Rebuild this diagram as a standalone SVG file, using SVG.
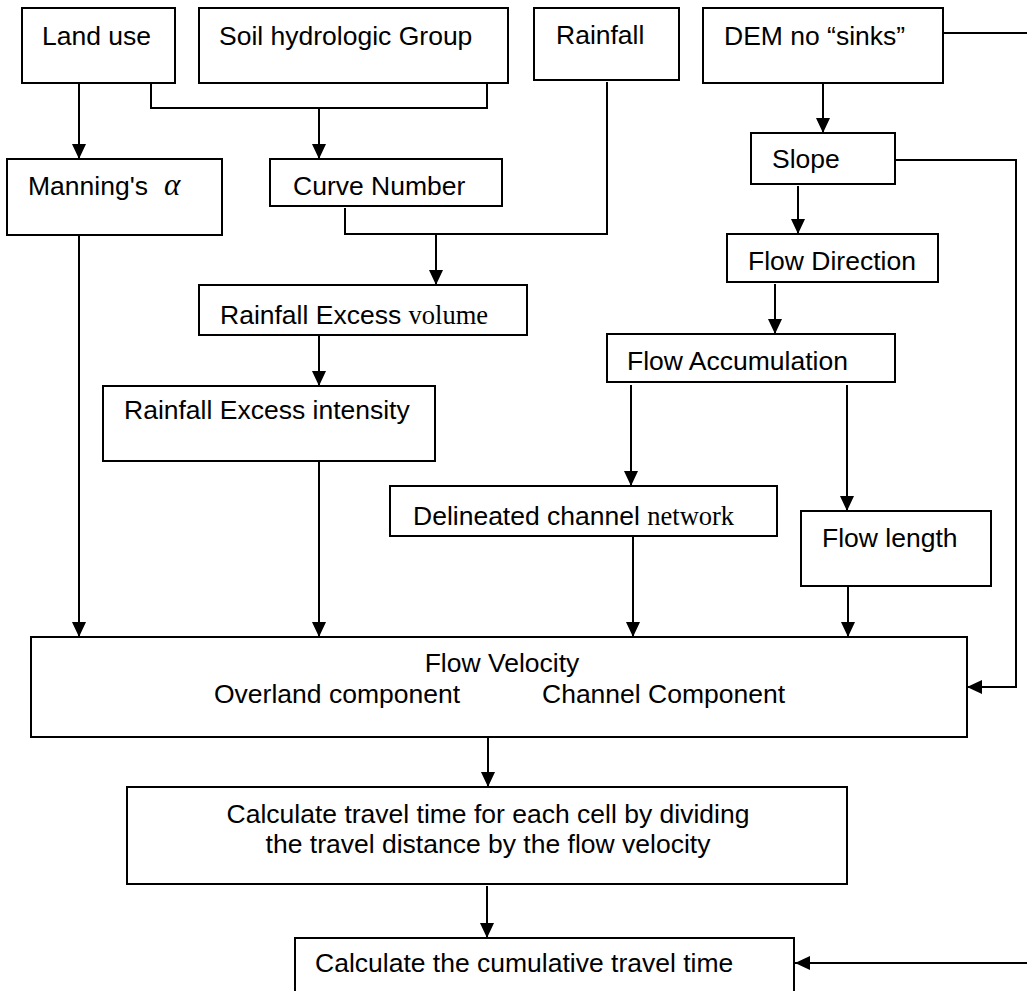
<svg xmlns="http://www.w3.org/2000/svg" width="1027" height="991" viewBox="0 0 1027 991">
<style>
.box{fill:#fff;stroke:#000;stroke-width:2}
.t{font-family:"Liberation Sans",Arial,sans-serif;font-size:26.5px;fill:#000}
.s{font-family:"Liberation Serif","Times New Roman",serif}
.c{fill:none;stroke:#000;stroke-width:2}
</style>
<defs>
<marker id="ah" markerUnits="userSpaceOnUse" markerWidth="15" markerHeight="14" viewBox="0 0 15 14" refX="15" refY="7" orient="auto">
<path d="M0,0 L15,7 L0,14 z" fill="#000"/>
</marker>
</defs>
<rect width="1027" height="991" fill="#fff"/>
<g id="connectors">
<path class="c" d="M79,83 V159" marker-end="url(#ah)"/>
<path class="c" d="M151,83 V108 H487 V83"/>
<path class="c" d="M319,108 V159" marker-end="url(#ah)"/>
<path class="c" d="M607,82 V234 H345 V208"/>
<path class="c" d="M436,234 V285" marker-end="url(#ah)"/>
<path class="c" d="M823,83 V133" marker-end="url(#ah)"/>
<path class="c" d="M943,33 H1027"/>
<path class="c" d="M895,160 H1016 V687 H967" marker-end="url(#ah)"/>
<path class="c" d="M798,186 V234" marker-end="url(#ah)"/>
<path class="c" d="M775,284 V334" marker-end="url(#ah)"/>
<path class="c" d="M319,335 V386" marker-end="url(#ah)"/>
<path class="c" d="M631,385 V486" marker-end="url(#ah)"/>
<path class="c" d="M847,385 V511" marker-end="url(#ah)"/>
<path class="c" d="M79,235 V637" marker-end="url(#ah)"/>
<path class="c" d="M319,461 V637" marker-end="url(#ah)"/>
<path class="c" d="M633,536 V637" marker-end="url(#ah)"/>
<path class="c" d="M848,586 V637" marker-end="url(#ah)"/>
<path class="c" d="M488,737 V787" marker-end="url(#ah)"/>
<path class="c" d="M487,886 V938" marker-end="url(#ah)"/>
<path class="c" d="M1027,963 H795" marker-end="url(#ah)"/>
</g>
<g id="land-use"><rect class="box" x="22" y="8" width="153" height="75"/><text class="t" x="42" y="45">Land use</text></g>
<g id="soil"><rect class="box" x="199" y="8" width="309" height="75"/><text class="t" x="219" y="45">Soil hydrologic Group</text></g>
<g id="rainfall"><rect class="box" x="534" y="8" width="145" height="72"/><text class="t" x="556" y="44">Rainfall</text></g>
<g id="dem"><rect class="box" x="703" y="8" width="240" height="75"/><text class="t" x="724" y="45">DEM no “sinks”</text></g>
<g id="manning"><rect class="box" x="7" y="159" width="215" height="76"/><text class="t" x="28" y="195">Manning's <tspan class="s" font-style="italic" font-size="31" x="164">α</tspan></text></g>
<g id="curve-number"><rect class="box" x="270" y="159" width="232" height="47"/><text class="t" x="293" y="195">Curve Number</text></g>
<g id="slope"><rect class="box" x="751" y="133" width="144" height="51"/><text class="t" x="772" y="168">Slope</text></g>
<g id="flow-direction"><rect class="box" x="727" y="234" width="211" height="48"/><text class="t" x="748" y="270">Flow Direction</text></g>
<g id="rainfall-excess-volume"><rect class="box" x="199" y="285" width="328" height="50"/><text class="t" x="220" y="324">Rainfall Excess <tspan class="s">volume</tspan></text></g>
<g id="flow-accumulation"><rect class="box" x="607" y="334" width="288" height="48"/><text class="t" x="627" y="370">Flow Accumulation</text></g>
<g id="rainfall-excess-intensity"><rect class="box" x="103" y="386" width="332" height="75"/><text class="t" x="124" y="419">Rainfall Excess intensity</text></g>
<g id="delineated"><rect class="box" x="390" y="486" width="387" height="50"/><text class="t" x="413" y="525">Delineated channel <tspan class="s">network</tspan></text></g>
<g id="flow-length"><rect class="box" x="801" y="511" width="190" height="75"/><text class="t" x="822" y="547">Flow length</text></g>
<g id="flow-velocity"><rect class="box" x="31" y="637" width="936" height="100"/><text class="t" x="502" y="672" text-anchor="middle">Flow Velocity</text><text class="t" x="214" y="703">Overland component</text><text class="t" x="542" y="703">Channel Component</text></g>
<g id="travel-time"><rect class="box" x="127" y="787" width="720" height="97"/><text class="t" x="488" y="823" text-anchor="middle">Calculate travel time for each cell by dividing</text><text class="t" x="488" y="853" text-anchor="middle">the travel distance by the flow velocity</text></g>
<g id="cumulative"><rect class="box" x="295" y="938" width="499" height="70"/><text class="t" x="315" y="972">Calculate the cumulative travel time</text></g>
</svg>
